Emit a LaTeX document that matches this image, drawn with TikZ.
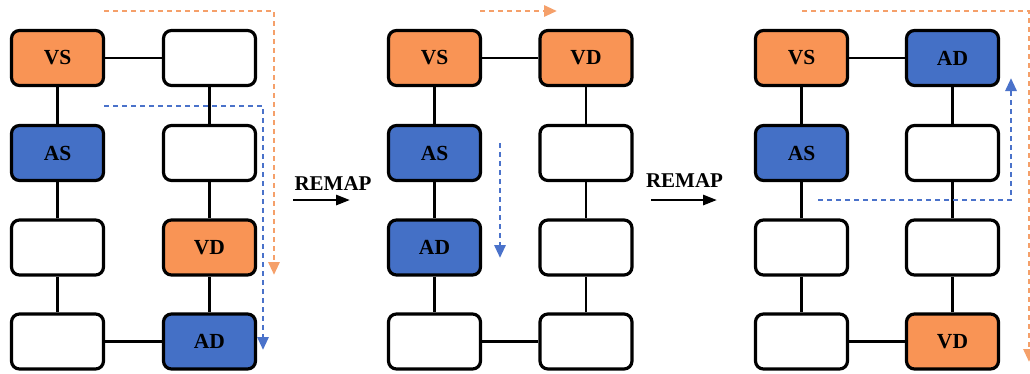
\documentclass[tikz,border=0pt]{standalone}
\usepackage{fontspec}
\setmainfont{Liberation Serif}
\usetikzlibrary{arrows.meta}
\definecolor{vorange}{HTML}{F99455}
\definecolor{ablue}{HTML}{4470C6}
\definecolor{flowor}{HTML}{F5A06A}
\definecolor{flowbl}{HTML}{4A72CA}
\tikzset{
  cell/.style={draw=black, line width=3.2pt, rounded corners=8pt, fill=white,
    minimum width=92pt, minimum height=55pt, inner sep=0pt,
    font=\fontsize{21.5}{24}\selectfont\bfseries},
  vcell/.style={cell, fill=vorange},
  acell/.style={cell, fill=ablue},
  link/.style={line width=2.7pt, black},
  flow/.style={line width=2.9pt, dash pattern=on 5pt off 4pt,
    -{Triangle[width=11pt,length=13pt]}},
  remaptext/.style={font=\fontsize{21}{24}\selectfont\bfseries, inner sep=0pt},
  remaparrow/.style={line width=2.8pt, -{Triangle[width=10pt,length=14pt]}}
}
\begin{document}
\begin{tikzpicture}[x=1pt, y=-1pt]
\useasboundingbox (0,0) rectangle (1030,373);

% ---------- panel 1 ----------
\node[vcell] (p1a) at (57.5,58) {VS};
\node[acell] (p1b) at (57.5,153) {AS};
\node[cell]  (p1c) at (57.5,247.5) {};
\node[cell]  (p1d) at (57.5,341.5) {};
\node[cell]  (p1e) at (209.5,58) {};
\node[cell]  (p1f) at (209.5,153) {};
\node[vcell] (p1g) at (209.5,247.5) {VD};
\node[acell] (p1h) at (209.5,341.5) {AD};
\draw[link] (p1a) -- (p1b);
\draw[link] (p1b) -- (p1c);
\draw[link] (p1c) -- (p1d);
\draw[link] (p1d) -- (p1h);
\draw[link] (p1h) -- (p1g);
\draw[link] (p1g) -- (p1f);
\draw[link] (p1f) -- (p1e);
\draw[link] (p1e) -- (p1a);

\coordinate (o1s) at (104,11);
\coordinate (o1c) at (274,11);
\coordinate (o1e) at (274,275);
\draw[flow, flowor] (o1s) -- (o1c) -- (o1e);
\coordinate (b1s) at (104,106);
\coordinate (b1c) at (263,106);
\coordinate (b1e) at (263,350);
\draw[flow, flowbl] (b1s) -- (b1c) -- (b1e);

% ---------- remap 1 ----------
\node[remaptext] (r1) at (333,184) {REMAP};
\coordinate (r1s) at (293,200);
\coordinate (r1e) at (350,200);
\draw[remaparrow] (r1s) -- (r1e);

% ---------- panel 2 ----------
\node[vcell] (p2a) at (434.5,58) {VS};
\node[acell] (p2b) at (434.5,153) {AS};
\node[acell] (p2c) at (434.5,247.5) {AD};
\node[cell]  (p2d) at (434.5,341.5) {};
\node[vcell] (p2e) at (586,58) {VD};
\node[cell]  (p2f) at (586,153) {};
\node[cell]  (p2g) at (586,247.5) {};
\node[cell]  (p2h) at (586,341.5) {};
\draw[link] (p2a) -- (p2b);
\draw[link] (p2b) -- (p2c);
\draw[link] (p2c) -- (p2d);
\draw[link] (p2d) -- (p2h);
\draw[link] (p2h) -- (p2g);
\draw[link] (p2g) -- (p2f);
\draw[link] (p2f) -- (p2e);
\draw[link] (p2e) -- (p2a);

\coordinate (o2s) at (480,11);
\coordinate (o2e) at (557,11);
\draw[flow, flowor] (o2s) -- (o2e);
\coordinate (b2s) at (500,143);
\coordinate (b2e) at (500,258);
\draw[flow, flowbl] (b2s) -- (b2e);

% ---------- remap 2 ----------
\node[remaptext] (r2) at (684.5,181) {REMAP};
\coordinate (r2s) at (651,200);
\coordinate (r2e) at (717,200);
\draw[remaparrow] (r2s) -- (r2e);

% ---------- panel 3 ----------
\node[vcell] (p3a) at (801.5,58) {VS};
\node[acell] (p3b) at (801.5,153) {AS};
\node[cell]  (p3c) at (801.5,247.5) {};
\node[cell]  (p3d) at (801.5,341.5) {};
\node[acell] (p3e) at (952.5,58) {AD};
\node[cell]  (p3f) at (952.5,153) {};
\node[cell]  (p3g) at (952.5,247.5) {};
\node[vcell] (p3h) at (952.5,341.5) {VD};
\draw[link] (p3a) -- (p3b);
\draw[link] (p3b) -- (p3c);
\draw[link] (p3c) -- (p3d);
\draw[link] (p3d) -- (p3h);
\draw[link] (p3h) -- (p3g);
\draw[link] (p3g) -- (p3f);
\draw[link] (p3f) -- (p3e);
\draw[link] (p3e) -- (p3a);

\coordinate (o3s) at (802,11);
\coordinate (o3c) at (1029,11);
\coordinate (o3e) at (1029,362);
\draw[flow, flowor] (o3s) -- (o3c) -- (o3e);
\coordinate (b3s) at (818,200);
\coordinate (b3c) at (1011,200);
\coordinate (b3e) at (1011,78);
\draw[flow, flowbl] (b3s) -- (b3c) -- (b3e);
\end{tikzpicture}
\end{document}
